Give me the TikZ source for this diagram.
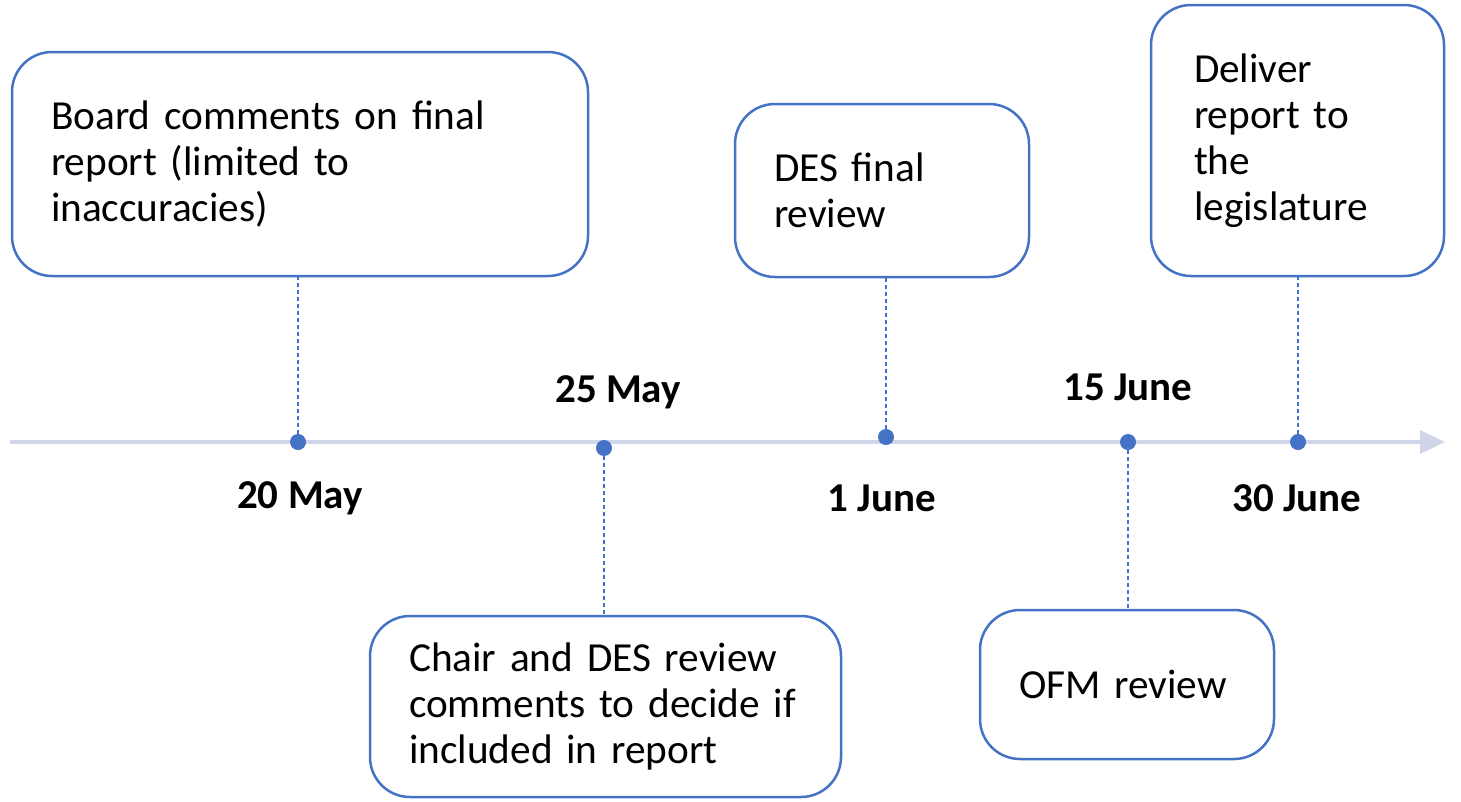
\documentclass[tikz,border=0pt]{standalone}
\usepackage{fontspec}
\setmainfont{Carlito}
\usetikzlibrary{arrows.meta}

\definecolor{boxblue}{HTML}{4472C4}
\definecolor{axisgrey}{HTML}{D0D5EA}

\tikzset{
    event/.style={draw=boxblue, line width=2.5pt, rounded corners=40pt, align=left,
        inner xsep=39pt, font=\fontsize{41.3}{46}\selectfont, anchor=center},
    dot/.style={circle, fill=boxblue, inner sep=0pt, minimum size=16pt},
    datelabel/.style={font=\fontsize{41}{46}\selectfont\bfseries},
    tick/.style={draw=boxblue, line width=1.3pt, dash pattern=on 4pt off 3pt}
}

\begin{document}
\begin{tikzpicture}[x=1pt, y=-1pt]

    \useasboundingbox (0,0) rectangle (1461,801);

    % time axis
    \coordinate (start) at (10,442);
    \coordinate (stop) at (1445,442);
    \draw[axisgrey, line width=3.5pt, -{Triangle[length=25pt, width=23pt]}] (start) -- (stop);

    % events
    \draw(300,164) node[event, minimum width=576pt, minimum height=224pt, text width=498pt] (board)
        {Board comments on final\\report (limited to\\inaccuracies)};
    \draw(605.5,706.5) node[event, minimum width=469pt, minimum height=181pt, text width=393pt] (chair)
        {Chair and DES review\\comments to decide if\\included in report};
    \draw(882,190.5) node[event, minimum width=294pt, minimum height=173pt, text width=216pt] (des)
        {DES final\\review};
    \draw(1127,684.5) node[event, minimum width=294pt, minimum height=149pt, text width=216pt] (ofm)
        {OFM review};
    \draw(1297.5,140.5) node[event, minimum width=293pt, minimum height=271pt, text width=207pt] (leg)
        {Deliver\\report to\\the\\legislature};

    % dates
    \draw(298,442) node[dot] (d20) {};
    \draw(604,448) node[dot] (d25) {};
    \draw(886,437) node[dot] (d1) {};
    \draw(1128,442) node[dot] (d15) {};
    \draw(1298,442) node[dot] (d30) {};

    \draw(300,498) node[datelabel] (l20) {20 May};
    \draw(618,392) node[datelabel] (l25) {25 May};
    \draw(882,498) node[datelabel] (l1) {1 June};
    \draw(1128,387) node[datelabel] (l15) {15 June};
    \draw(1297,498) node[datelabel] (l30) {30 June};

    % connectors
    \draw[tick] (d20) -- (d20 |- board.south);
    \draw[tick] (d25) -- (d25 |- chair.north);
    \draw[tick] (d1) -- (d1 |- des.south);
    \draw[tick] (d15) -- (d15 |- ofm.north);
    \draw[tick] (d30) -- (d30 |- leg.south);

\end{tikzpicture}
\end{document}
